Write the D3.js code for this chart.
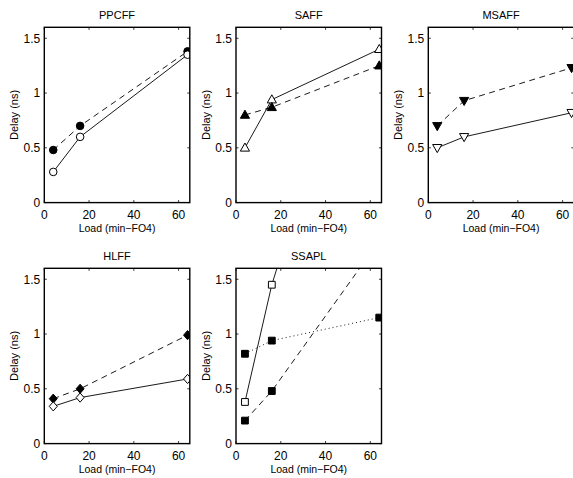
<!DOCTYPE html>
<html>
<head>
<meta charset="utf-8">
<script src="https://cdn.jsdelivr.net/npm/d3@7"></script>
<style>
  body { margin: 0; background: #fff; }
  svg { display: block; font-family: "Liberation Sans", Arial, Helvetica, sans-serif; }
</style>
</head>
<body>
<div id="chart"></div>
<script>
// Data (delay in ns vs load in min-FO4)
const loads = [4, 16, 64];
const xTicks = [0, 20, 40, 60];
const yTicks = [0, 0.5, 1, 1.5];

const ppcffSolid = [0.28, 0.60, 1.35];
const ppcffDashed = [0.48, 0.70, 1.38];
const saffSolid = [0.50, 0.94, 1.40];
const saffDashed = [0.80, 0.87, 1.25];
const msaffSolid = [0.50, 0.60, 0.82];
const msaffDashed = [0.70, 0.93, 1.23];
const hlffSolid = [0.34, 0.42, 0.59];
const hlffDashed = [0.41, 0.50, 0.99];
const ssaplSolid = [0.38, 1.45, 4.6];
const ssaplDashed = [0.21, 0.48, 1.85];
const ssaplDotted = [0.82, 0.94, 1.15];

// panel layout
const W = 573, H = 478;
const pw = 145.5, ph = 175.3;
const colX = [44.3, 236, 428.3];
const rowY = [27.3, 268.3];

const panels = [
  { title: "PPCFF", col: 0, row: 0, series: [
    { values: ppcffDashed, dash: "6,4.5", marker: "circle", filled: true },
    { values: ppcffSolid, dash: null, marker: "circle", filled: false }
  ]},
  { title: "SAFF", col: 1, row: 0, series: [
    { values: saffSolid, dash: null, marker: "triUp", filled: false },
    { values: saffDashed, dash: "6,4.5", marker: "triUp", filled: true }
  ]},
  { title: "MSAFF", col: 2, row: 0, series: [
    { values: msaffDashed, dash: "6,4.5", marker: "triDown", filled: true },
    { values: msaffSolid, dash: null, marker: "triDown", filled: false }
  ]},
  { title: "HLFF", col: 0, row: 1, series: [
    { values: hlffDashed, dash: "6,4.5", marker: "diamond", filled: true },
    { values: hlffSolid, dash: null, marker: "diamond", filled: false }
  ]},
  { title: "SSAPL", col: 1, row: 1, series: [
    { values: ssaplSolid, dash: null, marker: "square", filled: false },
    { values: ssaplDashed, dash: "6,4.5", marker: "square", filled: true },
    { values: ssaplDotted, dash: "1,3", marker: "square", filled: true }
  ]}
];

// marker shapes
function markerPath(type) {
  const p = d3.path();
  if (type === "circle") {
    p.arc(0, 0, 3.8, 0, 2 * Math.PI);
  } else if (type === "triUp") {
    p.moveTo(0, -4.8); p.lineTo(4.6, 3.3); p.lineTo(-4.6, 3.3); p.closePath();
  } else if (type === "triDown") {
    p.moveTo(0, 4.8); p.lineTo(4.6, -3.3); p.lineTo(-4.6, -3.3); p.closePath();
  } else if (type === "diamond") {
    p.moveTo(0, -4.6); p.lineTo(4, 0); p.lineTo(0, 4.6); p.lineTo(-4, 0); p.closePath();
  } else if (type === "square") {
    p.rect(-3.4, -3.4, 6.8, 6.8);
  }
  return p.toString();
}

const svg = d3.select("#chart").append("svg")
  .attr("width", W)
  .attr("height", H);

const x = d3.scaleLinear().domain([0, 65]).range([0, pw]);
const y = d3.scaleLinear().domain([0, 1.6]).range([ph, 0]);

const fmt = d => d === 0 ? "0" : d3.format("~g")(d);

panels.forEach((pan, i) => {
  const g = svg.append("g")
    .attr("transform", `translate(${colX[pan.col]},${rowY[pan.row]})`);

  g.append("clipPath").attr("id", "clip" + i)
    .append("rect").attr("width", pw).attr("height", ph);

  // tick labels
  g.selectAll(".xl").data(xTicks).enter().append("text")
    .attr("x", d => x(d)).attr("y", ph + 16.5)
    .attr("text-anchor", "middle")
    .attr("font-size", 12)
    .text(d => d);

  g.selectAll(".yl").data(yTicks).enter().append("text")
    .attr("x", -4).attr("y", d => y(d) + 4.3)
    .attr("text-anchor", "end")
    .attr("font-size", 12)
    .text(fmt);

  // inward ticks on all four sides
  const tk = 2.5;
  xTicks.forEach(t => {
    g.append("line").attr("x1", x(t)).attr("x2", x(t)).attr("y1", ph).attr("y2", ph - tk)
      .attr("stroke", "black").attr("stroke-width", 0.8);
    g.append("line").attr("x1", x(t)).attr("x2", x(t)).attr("y1", 0).attr("y2", tk)
      .attr("stroke", "black").attr("stroke-width", 0.8);
  });
  yTicks.forEach(t => {
    g.append("line").attr("x1", 0).attr("x2", tk).attr("y1", y(t)).attr("y2", y(t))
      .attr("stroke", "black").attr("stroke-width", 0.8);
    g.append("line").attr("x1", pw).attr("x2", pw - tk).attr("y1", y(t)).attr("y2", y(t))
      .attr("stroke", "black").attr("stroke-width", 0.8);
  });

  // series
  const plot = g.append("g").attr("clip-path", `url(#clip${i})`);
  const line = d3.line().x((d, j) => x(loads[j])).y(d => y(d));
  pan.series.forEach(s => {
    plot.append("path")
      .attr("d", line(s.values))
      .attr("fill", "none")
      .attr("stroke", "black")
      .attr("stroke-width", 0.9)
      .attr("stroke-dasharray", s.dash);
    plot.selectAll(null).data(s.values).enter().append("path")
      .attr("d", markerPath(s.marker))
      .attr("transform", (d, j) => `translate(${x(loads[j])},${y(d)})`)
      .attr("fill", s.filled ? "black" : "white")
      .attr("stroke", "black")
      .attr("stroke-width", 1);
  });

  // box
  g.append("rect")
    .attr("width", pw).attr("height", ph)
    .attr("fill", "none")
    .attr("stroke", "black")
    .attr("stroke-width", 1.4);

  // title and axis labels
  g.append("text")
    .attr("x", pw / 2).attr("y", -8)
    .attr("text-anchor", "middle")
    .attr("font-size", 11)
    .text(pan.title);

  g.append("text")
    .attr("x", pw / 2).attr("y", ph + 29.5)
    .attr("text-anchor", "middle")
    .attr("font-size", 10.5)
    .text("Load (min\u2212FO4)");

  g.append("text")
    .attr("transform", `translate(-26,${ph / 2}) rotate(-90)`)
    .attr("text-anchor", "middle")
    .attr("font-size", 11)
    .text("Delay (ns)");
});
</script>
</body>
</html>
